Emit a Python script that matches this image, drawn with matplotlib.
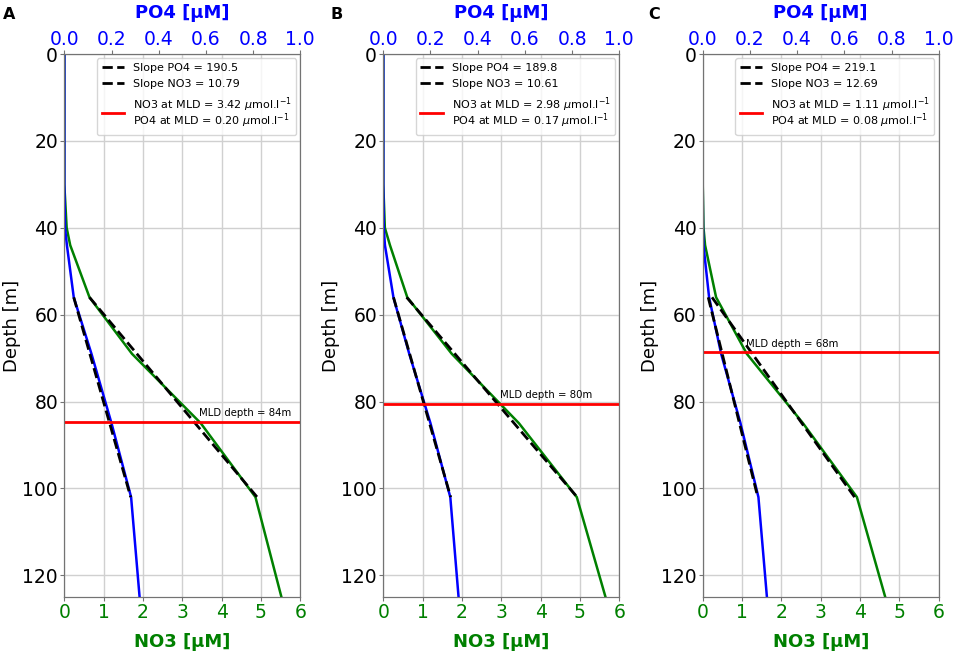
import matplotlib.pyplot as plt

# profile depths [m]
depth = [0.5, 10, 20, 30, 40, 44, 56, 69, 85, 102, 125]

# NO3 and PO4 profiles [uM] for the three stations
no3_a = [0, 0, 0, 0, 0.06, 0.15, 0.64, 1.72, 3.47, 4.86, 5.52]
po4_a = [0, 0, 0, 0, 0.003, 0.011, 0.04, 0.115, 0.20, 0.283, 0.319]
no3_b = [0, 0, 0, 0, 0.04, 0.17, 0.61, 1.74, 3.45, 4.92, 5.65]
po4_b = [0, 0, 0, 0, 0.002, 0.007, 0.043, 0.11, 0.20, 0.284, 0.319]
no3_c = [0, 0, 0, 0, 0.02, 0.06, 0.34, 1.12, 2.55, 3.92, 4.64]
po4_c = [0, 0, 0, 0, 0.001, 0.003, 0.027, 0.078, 0.16, 0.236, 0.272]

panels = ['A', 'B', 'C']
mld = [84.8, 80.6, 68.7]
slope_po4 = [190.5, 189.8, 219.1]
slope_no3 = [10.79, 10.61, 12.69]
icpt_po4 = [48.4, 47.8, 50.9]
icpt_no3 = [49.1, 49.7, 53.0]
no3_mld = [3.42, 2.98, 1.11]
po4_mld = [0.20, 0.17, 0.08]
fit_depth = [56, 102]

no3_ticks = [0, 1, 2, 3, 4, 5, 6]
po4_ticks = [0.0, 0.2, 0.4, 0.6, 0.8, 1.0]
depth_ticks = [0, 20, 40, 60, 80, 100, 120]

no3_all = [no3_a, no3_b, no3_c]
po4_all = [po4_a, po4_b, po4_c]

fig = plt.figure(figsize=(9.57, 6.56), dpi=100)
lefts = [0.0672, 0.4005, 0.7343]
letter_x = [0.003, 0.345, 0.677]

for i in range(3):
    ax = fig.add_axes([lefts[i], 0.0899, 0.2466, 0.8277])
    ax2 = ax.twiny()

    ax.plot(no3_all[i], depth, color='g', lw=1.8)
    fit_no3 = [(d - icpt_no3[i]) / slope_no3[i] for d in fit_depth]
    l_no3, = ax.plot(fit_no3, fit_depth, 'k--', lw=2,
                     label='Slope NO3 = %.2f' % slope_no3[i])

    ax2.plot(po4_all[i], depth, color='b', lw=1.8)
    fit_po4 = [(d - icpt_po4[i]) / slope_po4[i] for d in fit_depth]
    l_po4, = ax2.plot(fit_po4, fit_depth, 'k--', lw=2,
                      label='Slope PO4 = %.1f' % slope_po4[i])
    lab = ('NO3 at MLD = %.2f $\\mu$mol.l$^{-1}$\nPO4 at MLD = %.2f $\\mu$mol.l$^{-1}$'
           % (no3_mld[i], po4_mld[i]))
    l_mld = ax2.axhline(mld[i], color='r', lw=2, label=lab)
    ax.text(no3_mld[i], mld[i] - 0.9, 'MLD depth = %dm' % int(mld[i]),
            fontsize=7.3, va='bottom', ha='left')

    ax.set_xlim(0, 6)
    ax2.set_xlim(0, 1)
    ax.set_ylim(125, 0)
    ax.set_xticks(no3_ticks)
    ax2.set_xticks(po4_ticks)
    ax2.set_xticklabels(['%.1f' % t for t in po4_ticks])
    ax.set_yticks(depth_ticks)
    ax.grid(True, color='#d0d0d0', lw=1)

    ax.set_xlabel('NO3 [µM]', color='g', fontsize=13, fontweight='bold', labelpad=8)
    ax2.set_xlabel('PO4 [µM]', color='b', fontsize=13, fontweight='bold', labelpad=9)
    ax.set_ylabel('Depth [m]', fontsize=13, labelpad=1)
    ax.tick_params(axis='x', colors='g', labelsize=13.5, length=3, pad=1.5)
    ax.tick_params(axis='y', labelsize=13.5, color='0.45', length=3, pad=1.5)
    ax2.tick_params(axis='x', colors='b', labelsize=13.5, length=3, pad=0.5)
    ax.tick_params(axis='x', color='0.45')
    ax2.tick_params(axis='x', color='0.45')
    for sp in list(ax.spines.values()) + list(ax2.spines.values()):
        sp.set_color('0.45')

    leg = ax2.legend(handles=[l_po4, l_no3, l_mld], loc='upper right', fontsize=8,
                     labelspacing=0.55, borderaxespad=0.4)
    leg.get_texts()[2].set_linespacing(0.85)

    fig.text(letter_x[i], 0.99, panels[i], fontsize=11.5, fontweight='bold',
             va='top', ha='left')

fig.savefig('out.png', dpi=100)
